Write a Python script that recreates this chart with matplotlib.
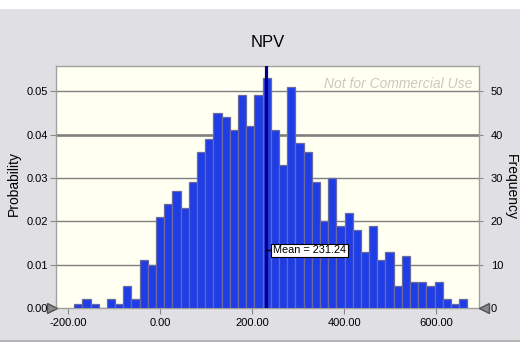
import matplotlib
matplotlib.use('Agg')
import matplotlib.pyplot as plt
from matplotlib.patches import Rectangle
from matplotlib.lines import Line2D
from matplotlib.ticker import FormatStrFormatter
from matplotlib.transforms import offset_copy

plt.rcParams['font.family'] = ['Liberation Sans', 'DejaVu Sans']
plt.rcParams['axes.unicode_minus'] = False

# histogram of NPV simulation (1000 trials)
counts = [1, 2, 1, 0, 2, 1, 5, 2, 11, 10, 21, 24, 27, 23, 29, 36, 39, 45, 44, 41,
          49, 42, 49, 53, 41, 33, 51, 38, 36, 29, 20, 30, 19, 22, 18, 13, 19, 11,
          13, 5, 12, 6, 6, 5, 6, 2, 1, 2]
bin_start = -186.6
bin_width = 17.8
n_trials = 1000
mean_npv = 231.24
x_ticks = [-200, 0, 200, 400, 600]
freq_ticks = [0, 10, 20, 30, 40, 50]
prob_ticks = [0.0, 0.01, 0.02, 0.03, 0.04, 0.05]

W, H = 520, 348
fig = plt.figure(figsize=(W / 100, H / 100), dpi=100, facecolor='white')

# grey panel behind everything
fig.patches.append(Rectangle((0, 7 / H), 1, 332 / H, transform=fig.transFigure,
                             facecolor='#e0e0e4', edgecolor='none', zorder=-10))
fig.lines.append(Line2D([0, 1], [7 / H, 7 / H], transform=fig.transFigure,
                        color='#a8a8ac', lw=1.2))

left, right, top, bottom = 56, 479, 66, 308
ax = fig.add_axes([left / W, 1 - bottom / H, (right - left) / W, (bottom - top) / H])
ax.set_facecolor('#fffff2')
ax2 = ax.twinx()

lefts = [bin_start + i * bin_width for i in range(len(counts))]
ax.bar(lefts, counts, width=bin_width, align='edge', color='#1f3de6',
       edgecolor='#6a6aa0', linewidth=0.9, zorder=3)

ax.set_xlim(-226, 693)
ax.set_ylim(0, 55.8)

# gridlines (the 40 line looks heavier in the original)
for v in freq_ticks[1:]:
    ax.axhline(v, color='#7f7f7f', lw=1.9 if v == 40 else 1.0, zorder=1)

# frequency scale on the right
ax.yaxis.tick_right()
ax.yaxis.set_label_position('right')
ax.set_yticks(freq_ticks)
ax.set_xticks(x_ticks)
ax.xaxis.set_major_formatter(FormatStrFormatter('%.2f'))
ax.tick_params(axis='x', length=4, width=0.8, color='#8a8a8a', pad=3, labelsize=8)
ax.tick_params(axis='y', length=3, width=0.8, color='#8a8a8a', pad=5.5, labelsize=8)
ax.set_ylabel('Frequency', rotation=-90, fontsize=10, ha='center', va='center')
ax.yaxis.set_label_coords((511 - left) / (right - left), (bottom - 187) / (bottom - top))
for s in ax.spines.values():
    s.set_color('#a0a0a0')
    s.set_linewidth(1.0)

# probability scale on the left
ax2.set_ylim(0, 55.8 / n_trials)
ax2.yaxis.tick_left()
ax2.yaxis.set_label_position('left')
ax2.set_yticks(prob_ticks)
ax2.yaxis.set_major_formatter(FormatStrFormatter('%.2f'))
ax2.tick_params(axis='y', length=4, width=0.8, color='#8a8a8a', pad=2, labelsize=8)
ax2.set_ylabel('Probability', fontsize=10, ha='center', va='center')
ax2.yaxis.set_label_coords((14 - left) / (right - left), (bottom - 183) / (bottom - top))
for s in ax2.spines.values():
    s.set_visible(False)

# mean line and label
ax.axvline(mean_npv, color='#00008c', lw=2.3, zorder=4)
ax.plot([mean_npv, mean_npv + 14], [13.3, 13.3], color='black', lw=1, zorder=5)
ax.text(mean_npv + 14, 13.3, 'Mean = 231.24', fontsize=7.8, va='center', ha='left',
        zorder=6, bbox=dict(boxstyle='square,pad=0.15', fc='white', ec='black', lw=0.8))

ax.text(0.985, 0.925, 'Not for Commercial Use', transform=ax.transAxes,
        ha='right', va='center', fontsize=10, style='italic', color='#c9c9c0', zorder=2)

ax.set_title('NPV', fontsize=12, pad=14)

# slider handles at the zero line
ax.plot([0], [0], marker='>', markersize=7, color='#8a8a8a', markeredgecolor='#505050',
        transform=offset_copy(ax.transAxes, fig, x=-4, units='dots'),
        clip_on=False, zorder=7)
ax.plot([1], [0], marker='<', markersize=7, color='#8a8a8a', markeredgecolor='#505050',
        transform=offset_copy(ax.transAxes, fig, x=5, units='dots'),
        clip_on=False, zorder=7)

fig.savefig('out.png', dpi=100, facecolor=fig.get_facecolor())
